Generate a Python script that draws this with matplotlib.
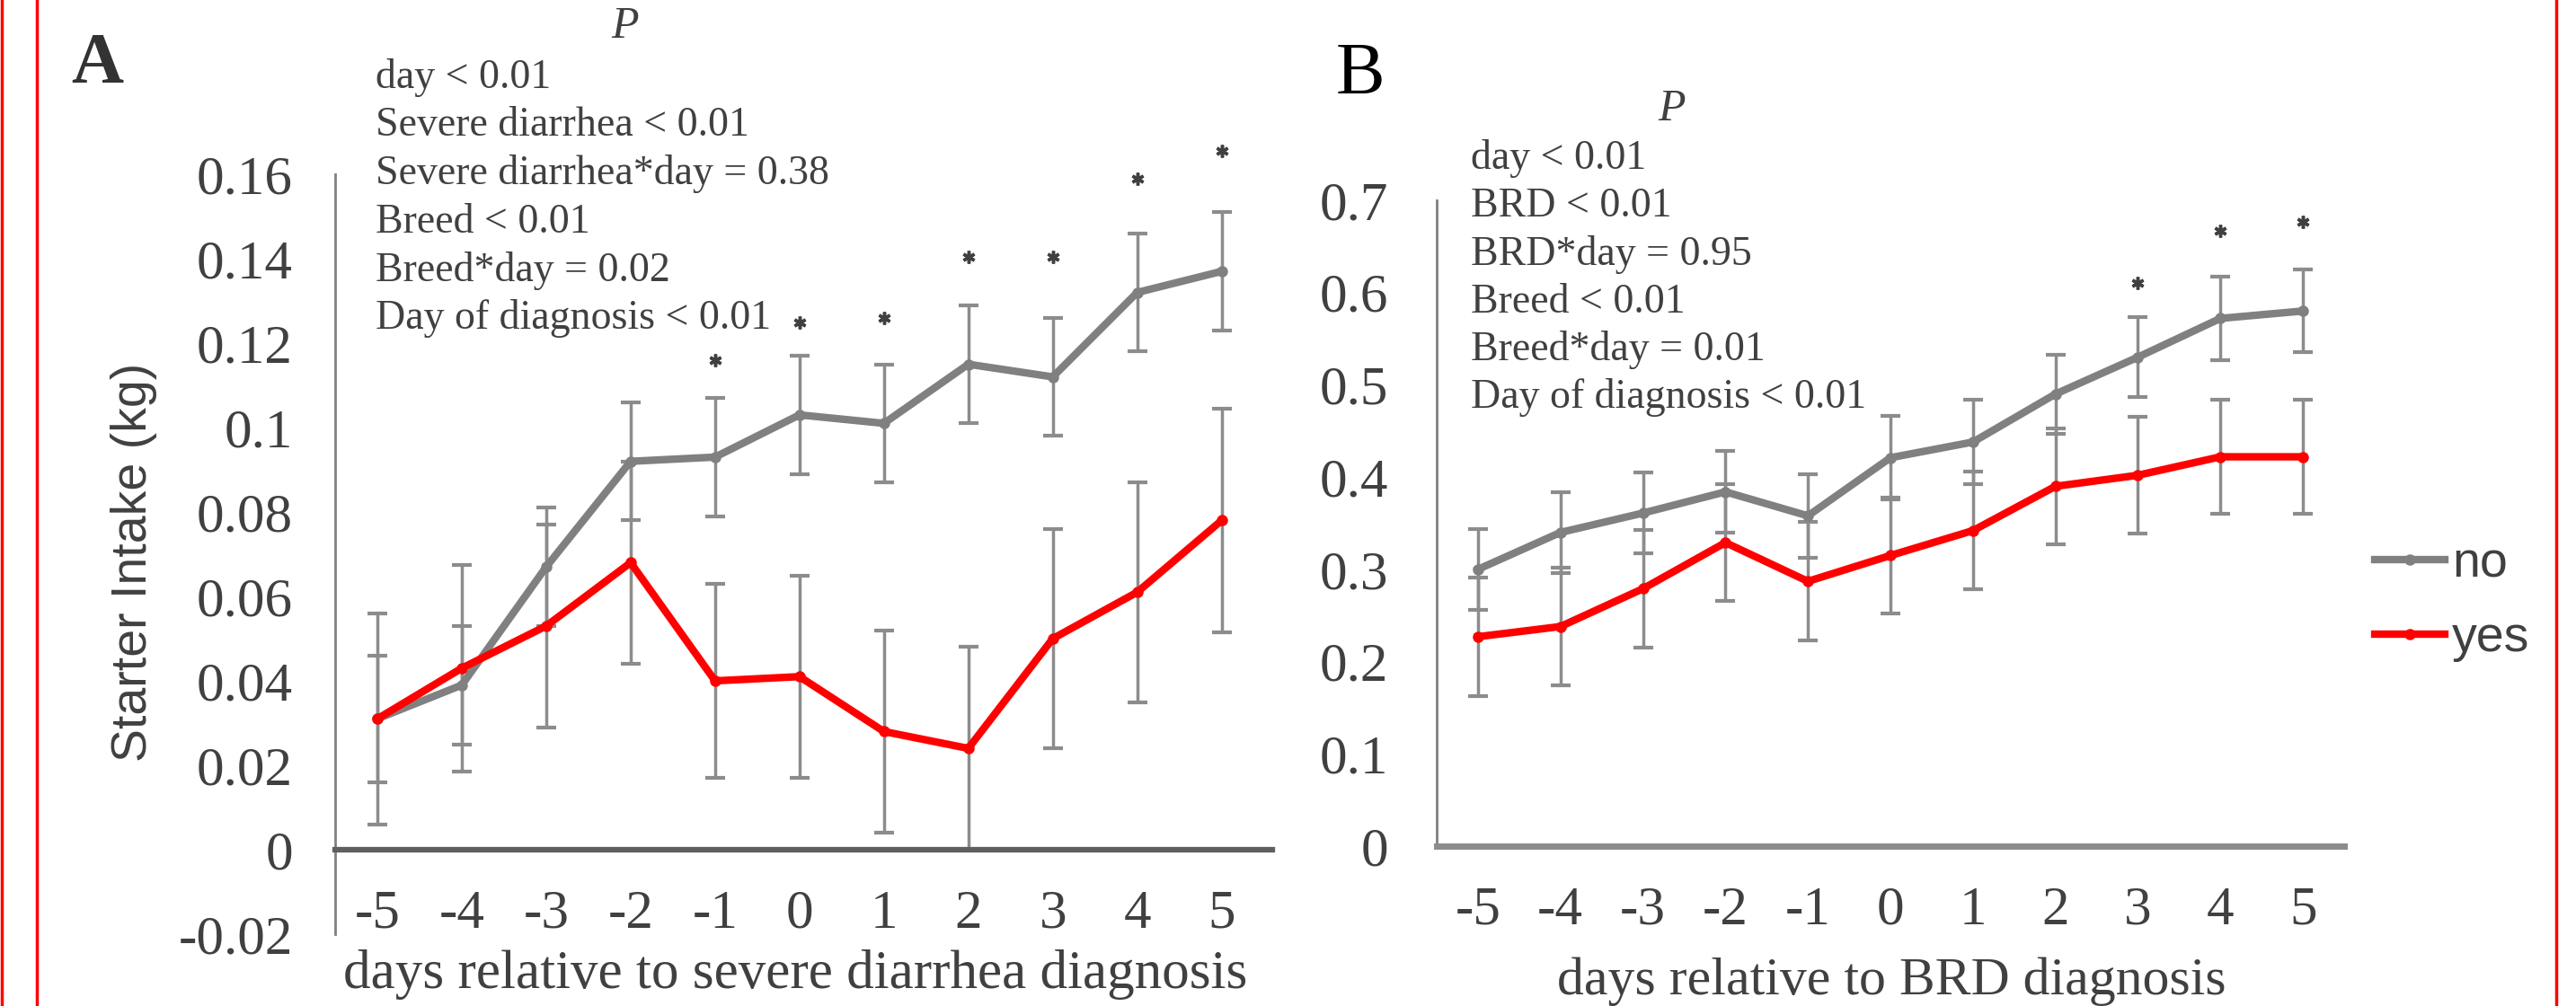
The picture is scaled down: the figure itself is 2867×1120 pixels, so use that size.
import matplotlib
matplotlib.use('Agg')
import matplotlib.pyplot as plt
from matplotlib.lines import Line2D

# days relative to diagnosis
days = [-5, -4, -3, -2, -1, 0, 1, 2, 3, 4, 5]
day_labels = ['-5', '-4', '-3', '-2', '-1', '0', '1', '2', '3', '4', '5']

# panel A: severe diarrhea
a_no = [0.031, 0.039, 0.067, 0.092, 0.093, 0.103, 0.101, 0.115, 0.112, 0.132, 0.137]
a_no_err = [0.015, 0.014, 0.014, 0.014, 0.014, 0.014, 0.014, 0.014, 0.014, 0.014, 0.014]
a_yes = [0.031, 0.043, 0.053, 0.068, 0.040, 0.041, 0.028, 0.024, 0.050, 0.061, 0.078]
a_yes_err = [0.025, 0.0245, 0.024, 0.024, 0.023, 0.024, 0.024, 0.024, 0.026, 0.026, 0.0265]
a_star_days = [-1, 0, 1, 2, 3, 4, 5]
a_star_y = [0.116, 0.125, 0.126, 0.1405, 0.1405, 0.159, 0.1655]
a_yticks = [-0.02, 0, 0.02, 0.04, 0.06, 0.08, 0.1, 0.12, 0.14, 0.16]
a_ylabels = ['-0.02', '0', '0.02', '0.04', '0.06', '0.08', '0.1', '0.12', '0.14', '0.16']
a_pvals = ['day < 0.01', 'Severe diarrhea < 0.01', 'Severe diarrhea*day = 0.38',
           'Breed < 0.01', 'Breed*day = 0.02', 'Day of diagnosis < 0.01']

# panel B: BRD
b_no = [0.300, 0.340, 0.361, 0.384, 0.358, 0.421, 0.438, 0.490, 0.530, 0.572, 0.580]
b_no_err = [0.044, 0.044, 0.044, 0.044, 0.045, 0.045, 0.046, 0.043, 0.043, 0.045, 0.045]
b_yes = [0.227, 0.238, 0.279, 0.329, 0.287, 0.315, 0.342, 0.390, 0.402, 0.422, 0.422]
b_yes_err = [0.064, 0.064, 0.064, 0.063, 0.064, 0.063, 0.064, 0.063, 0.063, 0.062, 0.062]
b_star_days = [3, 4, 5]
b_star_y = [0.610, 0.667, 0.677]
b_yticks = [0, 0.1, 0.2, 0.3, 0.4, 0.5, 0.6, 0.7]
b_ylabels = ['0', '0.1', '0.2', '0.3', '0.4', '0.5', '0.6', '0.7']
b_pvals = ['day < 0.01', 'BRD < 0.01', 'BRD*day = 0.95',
           'Breed < 0.01', 'Breed*day = 0.01', 'Day of diagnosis < 0.01']

SERIF = 'Liberation Serif'
SANS = 'Liberation Sans'
GRAY = '#808080'
RED = '#ff0000'
TXT = '#404040'

W, H = 2867, 1120
fig = plt.figure(figsize=(W / 100, H / 100), dpi=100)


def fx(px):
    return px / W


def fy(py):
    return 1 - py / H


axA = fig.add_axes([fx(373), fy(1040), (1416 - 373) / W, (1040 - 194) / H])
axB = fig.add_axes([fx(1599), fy(942), (2609 - 1599) / W, (942 - 223) / H])
# x axis of panel A sits on y = 0
axA.spines['bottom'].set_position(('data', 0))


def draw(ax, no, no_err, yes, yes_err, star_days, star_y):
    for vals, err in [(no, no_err), (yes, yes_err)]:
        eb = ax.errorbar(days, vals, yerr=err, fmt='none', ecolor='#8c8c8c',
                         elinewidth=2.5, capsize=8, capthick=3, zorder=2)
        for cap in eb[1]:
            cap.set_color('#404040')
    l1, = ax.plot(days, no, color=GRAY, lw=6, marker='o', ms=8, label='no', zorder=3)
    l2, = ax.plot(days, yes, color=RED, lw=6, marker='o', ms=8, label='yes', zorder=4)
    ax.plot(star_days, star_y, ls='none', marker=(6, 2, 0), ms=10, mew=2.5,
            color='#404040', zorder=5, clip_on=False)
    for s in ['top', 'right']:
        ax.spines[s].set_visible(False)
    ax.spines['left'].set_color(GRAY)
    ax.spines['left'].set_linewidth(2)
    ax.set_xticks(days)
    ax.set_xticklabels(day_labels)
    ax.tick_params(length=0, labelsize=44, labelcolor=TXT, labelfontfamily=SERIF)
    return l1, l2


draw(axA, a_no, a_no_err, a_yes, a_yes_err, a_star_days, a_star_y)
axA.set_xlim(-5.5, 5.6)
axA.set_ylim(-0.02, 0.16)
axA.spines['bottom'].set_color('#5f5f5f')
axA.spines['bottom'].set_linewidth(4.5)
axA.set_yticks(a_yticks)
axA.set_yticklabels(a_ylabels)
axA.tick_params(axis='y', pad=34)
axA.tick_params(axis='x', pad=32)
axA.set_xlabel('days relative to severe diarrhea diagnosis', fontfamily=SERIF,
               fontsize=44, color=TXT, va='center')
axA.xaxis.set_label_coords(0.491, -0.053)
axA.set_ylabel('Starter Intake (kg)', fontfamily=SANS, fontsize=40, color=TXT, va='center')
axA.yaxis.set_label_coords(-0.215, 0.49)

lines = draw(axB, b_no, b_no_err, b_yes, b_yes_err, b_star_days, b_star_y)
axB.set_xlim(-5.5, 5.5)
axB.set_ylim(0, 0.7)
axB.spines['bottom'].set_color('#8c8c8c')
axB.spines['bottom'].set_linewidth(5)
axB.set_yticks(b_yticks)
axB.set_yticklabels(b_ylabels)
axB.tick_params(axis='y', pad=39)
axB.tick_params(axis='x', pad=32)
axB.set_xlabel('days relative to BRD diagnosis', fontfamily=SERIF,
               fontsize=43, color=TXT, va='center')
axB.xaxis.set_label_coords(0.501, -0.209)

fig.legend(handles=list(lines), loc='center left', bbox_to_anchor=(fx(2643), fy(670)),
           frameon=False, borderpad=0, borderaxespad=0, handlelength=1.4,
           handletextpad=0.15, labelspacing=0.55,
           prop={'family': SANS, 'size': 40}, labelcolor=TXT)

# panel letters, P headers and p-value lists
fig.text(fx(108), fy(73), 'A', fontfamily=SERIF, fontweight='bold', fontsize=58,
         color='#333333', ha='center', va='center')
fig.text(fx(1514), fy(84), 'B', fontfamily=SERIF, fontsize=59, color='black',
         ha='center', va='center')
fig.text(fx(696), fy(30), 'P', fontfamily=SERIF, style='italic', fontsize=36,
         color=TXT, ha='center', va='center')
fig.text(fx(1861), fy(122), 'P', fontfamily=SERIF, style='italic', fontsize=36,
         color=TXT, ha='center', va='center')
for i, s in enumerate(a_pvals):
    fig.text(fx(418), fy(86 + i * 53.8), s, fontfamily=SERIF, fontsize=33,
             color=TXT, ha='left', va='center')
for i, s in enumerate(b_pvals):
    fig.text(fx(1637), fy(177 + i * 53.2), s, fontfamily=SERIF, fontsize=33,
             color=TXT, ha='left', va='center')

# red frame lines
for xp in [2, 41, 2845]:
    fig.add_artist(Line2D([fx(xp), fx(xp)], [0, 1], color=RED, lw=2.5))

fig.savefig('out.png', dpi=100)
